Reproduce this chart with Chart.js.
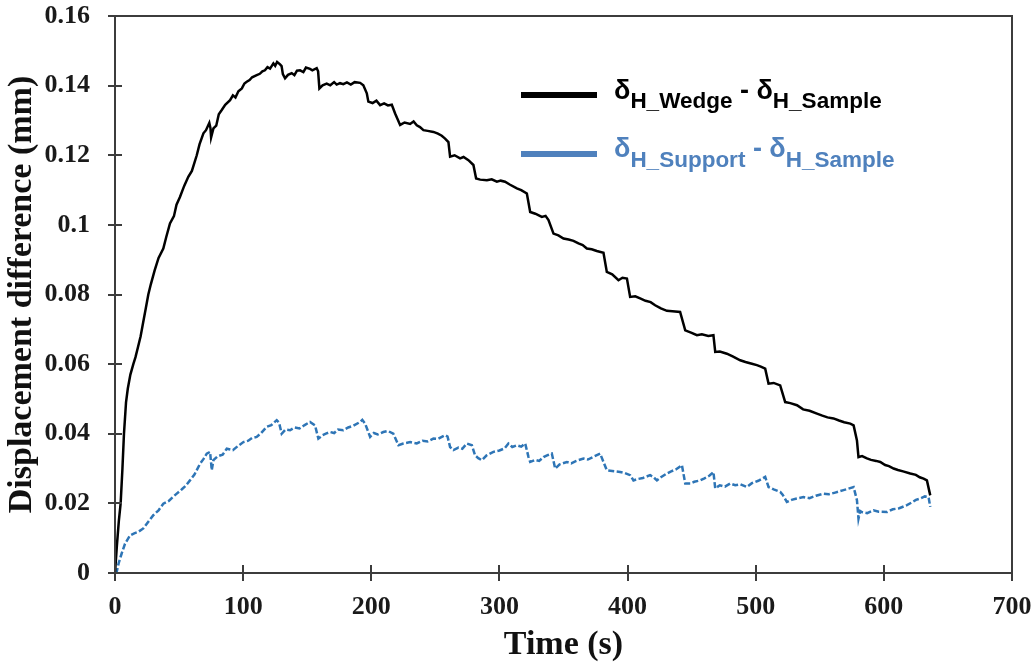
<!DOCTYPE html>
<html>
<head>
<meta charset="utf-8">
<title>Displacement difference vs time</title>
<script src="https://cdn.jsdelivr.net/npm/chart.js@4.4.1/dist/chart.umd.min.js"></script>
<style>
  html, body { margin: 0; padding: 0; background: #fff; }
  #wrap { position: relative; width: 1033px; height: 666px; }
  #key { position: absolute; left: 0; top: 0; width: 1033px; height: 666px; pointer-events: none;
         font-family: "Liberation Sans", Arial, sans-serif; font-weight: bold; }
  .swatch { position: absolute; left: 521px; width: 76px; height: 6px; }
  .entry { position: absolute; left: 614px; font-size: 27px; line-height: 27px; white-space: nowrap; }
  .entry sub { font-size: 22.5px; line-height: 0; }
</style>
</head>
<body>
<div id="wrap">
  <canvas id="chart" width="1033" height="666"></canvas>
  <div id="key">
    <div class="swatch" style="top:92px;background:#000;"></div>
    <div class="entry" style="top:77px;color:#000;">δ<sub style="vertical-align:-9px">H_Wedge</sub> - δ<sub style="vertical-align:-9px">H_Sample</sub></div>
    <div class="swatch" style="top:151px;background:#4f81bd;"></div>
    <div class="entry" style="top:135px;color:#4f81bd;">δ<sub style="vertical-align:-10px">H_Support</sub> - δ<sub style="vertical-align:-10px">H_Sample</sub></div>
  </div>
</div>
<script>
// Tick positions for both axes
const xTickValues = [0, 100, 200, 300, 400, 500, 600, 700];
const yTickValues = [0, 0.02, 0.04, 0.06, 0.08, 0.1, 0.12, 0.14, 0.16];

// δH_Wedge - δH_Sample (mm) against time (s)
const wedgeTime = [0,1.5,3,4.4,5.8,7,8.6,10,12,14.3,16,18,20,22,24,26,28,31,34,37.7,40,42.9,46,48,50.7,54,57.2,60,63.8,66,69,71,73.6,74.5,75,76.8,79,81,83.3,86,89.8,92,94,96.3,99,101,102.8,105,107,110.6,113,115,117,119,121,123.6,125,126.5,128.8,130,131,132.7,135,137.9,140,142,144.4,147,149,152.2,154,157.4,158.5,159.5,162,165.2,168,171,173,175.6,178.2,181,184,187,191.3,193.8,196.5,197.7,201,204,206.9,210,213,216,218.6,222.5,226,230.3,233,235.5,238,240.7,244,248.5,252,255,257.6,260.2,261.5,265,269.3,272,275.8,279.7,281.8,285,290.2,294,298,301,304.4,308,313.6,317,321.4,324,328,333.1,336,338.3,342.2,346,350,354,357.8,361.7,365,368.2,372,376,381.2,383.8,388,392.9,396,399.5,402,406,409.8,414,418,421.5,426,430.7,435,441,445,450,454.1,458,463,467,468.4,472,477.5,482,487.9,492,497,500.9,504,507.4,510,514,519.1,523,527,532.2,537,542,547.8,552,556,560.7,565,569,573.8,576.4,579,580.2,583,586.8,590,594,597.2,601,604,607.6,611,615,620.6,625,628,631,633.6,636.2];
const wedgeDiff = [0,0.008,0.015,0.020,0.030,0.040,0.049,0.053,0.057,0.060,0.062,0.065,0.068,0.072,0.076,0.080,0.083,0.087,0.0905,0.0932,0.0965,0.1004,0.1025,0.1058,0.1080,0.1112,0.1138,0.1155,0.1200,0.1232,0.1263,0.1272,0.1293,0.1278,0.1251,0.1277,0.1285,0.1318,0.1330,0.1345,0.1358,0.1372,0.1366,0.1384,0.1392,0.1406,0.1411,0.1416,0.1424,0.1430,0.1434,0.1441,0.1444,0.1453,0.1449,0.1464,0.1457,0.1468,0.1461,0.1456,0.1433,0.1421,0.1431,0.1436,0.1430,0.1443,0.1444,0.1439,0.1452,0.1448,0.1444,0.1450,0.1441,0.1392,0.1401,0.1406,0.1401,0.1410,0.1403,0.1407,0.1404,0.1409,0.1403,0.1410,0.1408,0.1401,0.1378,0.1354,0.1350,0.1357,0.1344,0.1349,0.1343,0.1345,0.1320,0.1287,0.1294,0.1290,0.1297,0.1286,0.1281,0.1272,0.1270,0.1267,0.1262,0.1256,0.1248,0.1238,0.1196,0.1200,0.1191,0.1195,0.1186,0.1172,0.1133,0.1130,0.1128,0.1131,0.1124,0.1127,0.1124,0.1116,0.1105,0.1100,0.1090,0.1037,0.1032,0.1023,0.1026,0.1014,0.0975,0.0970,0.0961,0.0958,0.0954,0.0947,0.0942,0.0932,0.0930,0.0925,0.0920,0.0865,0.0858,0.0841,0.0848,0.0846,0.0793,0.0795,0.0789,0.0782,0.0778,0.0769,0.0760,0.0753,0.0752,0.0750,0.0697,0.0690,0.0683,0.0686,0.0681,0.0683,0.0635,0.0636,0.0630,0.0622,0.0611,0.0606,0.0601,0.0597,0.0593,0.0587,0.0544,0.0546,0.0539,0.0491,0.0488,0.0482,0.0470,0.0466,0.0458,0.0452,0.0447,0.0444,0.0438,0.0433,0.0429,0.0424,0.0381,0.0333,0.0336,0.0329,0.0325,0.0322,0.0319,0.0310,0.0307,0.0300,0.0296,0.0292,0.0286,0.0282,0.0275,0.0271,0.0266,0.0223];

// δH_Support - δH_Sample (mm) against time (s)
const supportTime = [0,1.3,3,5.2,7.8,11.7,15,18,22.1,26,29.9,34,37.7,42,45,48.2,52,55,58.5,62,66.4,69,71.6,74.2,75.5,76.8,80,84,87.2,92,96,100.2,104,107,110.6,114,118.4,122,126.2,128,130.1,133,136.6,140,144,148,152.2,156.1,158.7,162,165,167.8,171,174,178.2,182,186,191.3,193,195.2,199.1,202,205,209.4,213,217.2,221.2,225,230.3,235.5,240,244,248.5,252,257.6,259.5,261.5,264.1,268,271,274.5,278.5,281,283.5,286.3,290,295.3,300,304,307,310,313.6,317,320.1,322.7,324,328,331,334.4,338,340.9,342,343.5,347,352.6,356,360,365.6,369,373,378.6,381.2,383.8,388,394.2,398,402,404.6,408,412,417.6,420,422.9,426,430.7,434,438,442.4,445,448.9,452,456.7,460,464,467,468.4,472,476,480.1,484,488,493.1,497,502,507.4,510,514,519.1,521,524.3,528,532,537.3,542,547,552.9,557,562,568.5,572,576.4,579,580.2,581.5,582.8,587,591.9,596,602.4,607,612,618,622,625,628.4,632,634.9,636.2];
const supportDiff = [0,0.0003,0.003,0.0056,0.0084,0.0108,0.0114,0.0118,0.0128,0.0147,0.0166,0.0180,0.0199,0.0207,0.0218,0.0228,0.0240,0.0250,0.0266,0.0283,0.0314,0.0327,0.0343,0.0348,0.0295,0.0324,0.0335,0.0340,0.0357,0.0353,0.0365,0.0376,0.0380,0.0388,0.0391,0.0402,0.0420,0.0425,0.0439,0.0432,0.0400,0.0412,0.0410,0.0418,0.0415,0.0425,0.0434,0.0424,0.0386,0.0396,0.0401,0.0405,0.0402,0.0412,0.0410,0.0418,0.0423,0.0434,0.0440,0.0429,0.0391,0.0402,0.0398,0.0405,0.0408,0.0400,0.0367,0.0372,0.0376,0.0372,0.0380,0.0378,0.0386,0.0385,0.0396,0.0392,0.0362,0.0353,0.0360,0.0357,0.0372,0.0367,0.0338,0.0330,0.0324,0.0338,0.0348,0.0352,0.0358,0.0372,0.0362,0.0367,0.0363,0.0372,0.0333,0.0319,0.0325,0.0322,0.0333,0.0339,0.0343,0.0325,0.0300,0.0312,0.0319,0.0315,0.0322,0.0329,0.0326,0.0333,0.0343,0.0319,0.0295,0.0293,0.0290,0.0287,0.0281,0.0266,0.0270,0.0273,0.0281,0.0276,0.0266,0.0275,0.0286,0.0292,0.0298,0.0310,0.0257,0.0257,0.0262,0.0266,0.0272,0.0280,0.0290,0.0243,0.0252,0.0248,0.0257,0.0252,0.0255,0.0247,0.0258,0.0265,0.0276,0.0247,0.0240,0.0233,0.0225,0.0204,0.0210,0.0214,0.0218,0.0215,0.0222,0.0228,0.0226,0.0231,0.0238,0.0242,0.0247,0.0209,0.0156,0.0178,0.0175,0.0172,0.0180,0.0176,0.0175,0.0183,0.0186,0.0195,0.0203,0.0210,0.0214,0.0220,0.0218,0.0190];

const toPoints = (ts, vs) => ts.map((t, i) => ({ x: t, y: vs[i] }));

const axisColor = '#3c3c3c';
const serifFont = '"Liberation Serif", "Times New Roman", serif';

// Frame around the plot area plus tick marks that cross the axis lines
const frameAndTicks = {
  id: 'frameAndTicks',
  afterDraw(chart) {
    const { ctx, chartArea: a, scales } = chart;
    const xs = scales.x, ys = scales.y;
    ctx.save();
    ctx.strokeStyle = axisColor;
    ctx.lineWidth = 2;
    ctx.strokeRect(a.left, a.top, a.right - a.left, a.bottom - a.top);
    ctx.beginPath();
    xs.ticks.forEach(t => {
      const px = Math.round(xs.getPixelForValue(t.value));
      ctx.moveTo(px, a.bottom - 8);
      ctx.lineTo(px, a.bottom + 8);
    });
    ys.ticks.forEach(t => {
      const py = Math.round(ys.getPixelForValue(t.value));
      ctx.moveTo(a.left - 7, py);
      ctx.lineTo(a.left + 7, py);
    });
    ctx.stroke();
    ctx.restore();
  }
};

new Chart(document.getElementById('chart'), {
  type: 'scatter',
  data: {
    datasets: [
      {
        label: 'δH_Wedge - δH_Sample',
        data: toPoints(wedgeTime, wedgeDiff),
        showLine: true,
        borderColor: '#000000',
        borderWidth: 2.5,
        pointRadius: 0,
        tension: 0
      },
      {
        label: 'δH_Support - δH_Sample',
        data: toPoints(supportTime, supportDiff),
        showLine: true,
        borderColor: '#2e75b6',
        borderWidth: 2.5,
        borderDash: [6, 2.5],
        pointRadius: 0,
        tension: 0
      }
    ]
  },
  options: {
    responsive: false,
    animation: false,
    layout: { padding: { top: 16, right: 21, left: 0, bottom: 0 } },
    plugins: { legend: { display: false }, tooltip: { enabled: false } },
    scales: {
      x: {
        type: 'linear',
        min: 0,
        max: 700,
        afterBuildTicks: s => { s.ticks = xTickValues.map(v => ({ value: v })); },
        afterFit: s => { s.height = 93; s.paddingLeft = 0; s.paddingRight = 0; },
        grid: { display: false, drawTicks: false },
        border: { display: false },
        ticks: {
          padding: 19,
          color: '#1a1a1a',
          font: { family: serifFont, size: 26, weight: 'bold' },
          maxRotation: 0,
          callback: v => String(v)
        },
        title: {
          display: true,
          text: 'Time (s)',
          color: '#111',
          padding: { top: 0, bottom: 0 },
          font: { family: serifFont, size: 34, weight: 'bold' }
        }
      },
      y: {
        type: 'linear',
        min: 0,
        max: 0.16,
        afterBuildTicks: s => { s.ticks = yTickValues.map(v => ({ value: v })); },
        afterFit: s => { s.width = 115; s.paddingTop = 0; s.paddingBottom = 0; },
        grid: { display: false, drawTicks: false },
        border: { display: false },
        ticks: {
          padding: 25,
          color: '#1a1a1a',
          font: { family: serifFont, size: 26, weight: 'bold' },
          callback: v => String(parseFloat(Number(v).toFixed(2)))
        },
        title: {
          display: true,
          text: 'Displacement difference (mm)',
          color: '#111',
          padding: { top: 2, bottom: 0 },
          font: { family: serifFont, size: 34, weight: 'bold' }
        }
      }
    }
  },
  plugins: [frameAndTicks]
});
</script>
</body>
</html>
